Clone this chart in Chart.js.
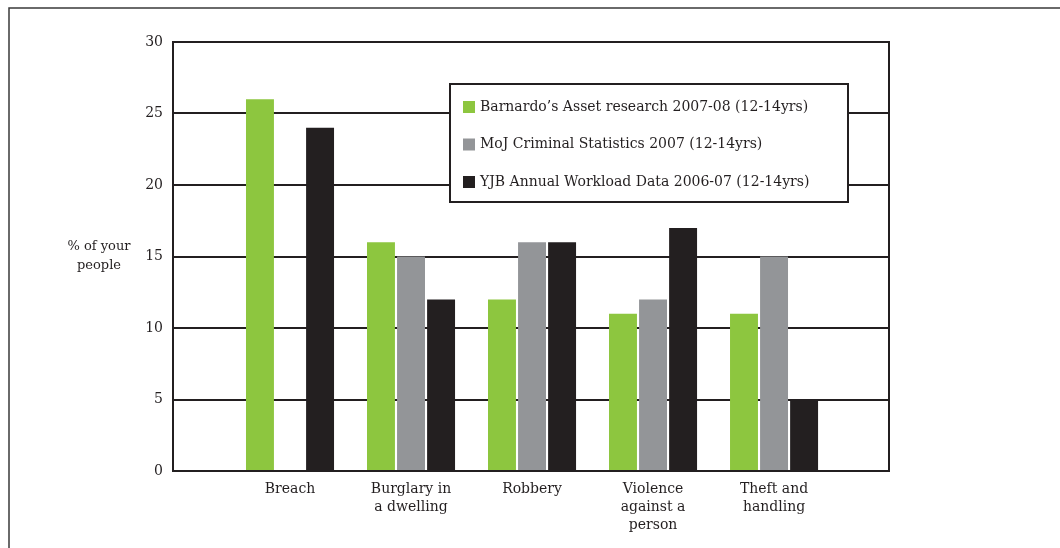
<!DOCTYPE html>
<html>
<head>
<meta charset="utf-8">
<script src="https://cdn.jsdelivr.net/npm/chart.js@4"></script>
<style>
  body { margin: 0; background: #fff; }
  canvas { display: block; }
</style>
</head>
<body>
<canvas id="myChart" width="1060" height="548"></canvas>
<script>
// categories and series
const categories = ['Breach', ['Burglary in', 'a dwelling'], 'Robbery', ['Violence', 'against a', 'person'], ['Theft and', 'handling']];
const seriesNames = [
    'Barnardo\u2019s Asset research 2007-08 (12-14yrs)',
    'MoJ Criminal Statistics 2007 (12-14yrs)',
    'YJB Annual Workload Data 2006-07 (12-14yrs)'
];
const barnardos = [26, 16, 12, 11, 11];
const moj = [null, 15, 16, 12, 15];
const yjb = [24, 12, 16, 17, 5];
const yTicks = [0, 5, 10, 15, 20, 25, 30];
const yTitle = ['% of your', 'people'];

const colors = ['#8dc63f', '#939598', '#231f20'];
const ink = '#231f20';
const fontFamily = "'DejaVu Serif', serif";

function toPoints(values) {
    return values.map((v, i) => ({ x: i + 1, y: v }));
}

// frame, plot box, axis title and legend box
const decorations = {
    id: 'decorations',
    beforeDraw(chart) {
        const ctx = chart.ctx;
        ctx.save();
        ctx.strokeStyle = '#3a3a3a';
        ctx.lineWidth = 1.5;
        ctx.beginPath();
        ctx.moveTo(9, 548);
        ctx.lineTo(9, 8);
        ctx.lineTo(1060, 8);
        ctx.stroke();
        ctx.restore();
    },
    beforeDatasetsDraw(chart) {
        const ctx = chart.ctx;
        const a = chart.chartArea;
        ctx.save();
        ctx.strokeStyle = ink;
        ctx.lineWidth = 2;
        ctx.strokeRect(a.left, a.top, a.right - a.left, a.bottom - a.top);
        ctx.fillStyle = ink;
        ctx.font = '13px ' + fontFamily;
        ctx.textAlign = 'center';
        ctx.textBaseline = 'middle';
        yTitle.forEach((t, i) => ctx.fillText(t, 99, 247 + i * 19));
        ctx.restore();
    },
    afterDatasetsDraw(chart) {
        const ctx = chart.ctx;
        const box = { x: 450, y: 84, w: 398, h: 118 };
        ctx.save();
        ctx.fillStyle = '#fff';
        ctx.fillRect(box.x, box.y, box.w, box.h);
        ctx.strokeStyle = ink;
        ctx.lineWidth = 2;
        ctx.strokeRect(box.x, box.y, box.w, box.h);
        ctx.font = '14px ' + fontFamily;
        ctx.textBaseline = 'middle';
        chart.data.datasets.forEach((ds, i) => {
            const cy = 107 + i * 37.5;
            ctx.fillStyle = ds.backgroundColor;
            ctx.fillRect(463, cy - 6, 12, 12);
            ctx.fillStyle = ink;
            ctx.fillText(ds.label, 480, cy);
        });
        ctx.restore();
    }
};

const atx = document.getElementById('myChart').getContext('2d');
const barChart = new Chart(atx, {
    type: 'bar',
    data: {
        datasets: [
            { label: seriesNames[0], data: toPoints(barnardos), backgroundColor: colors[0] },
            { label: seriesNames[1], data: toPoints(moj), backgroundColor: colors[1] },
            { label: seriesNames[2], data: toPoints(yjb), backgroundColor: colors[2] }
        ]
    },
    options: {
        responsive: false,
        animation: false,
        categoryPercentage: 0.745,
        barPercentage: 0.93,
        layout: { padding: { left: 0, top: 42, right: 171, bottom: 0 } },
        plugins: {
            legend: { display: false },
            tooltip: { enabled: false }
        },
        scales: {
            x: {
                type: 'linear',
                offset: false,
                min: 0.033,
                max: 5.95,
                afterBuildTicks(scale) {
                    scale.ticks = categories.map((c, i) => ({ value: i + 1 }));
                },
                afterFit(scale) { scale.height = 77; },
                grid: { display: false, drawTicks: false, offset: false },
                border: { display: false },
                ticks: {
                    padding: 9,
                    maxRotation: 0,
                    autoSkip: false,
                    color: ink,
                    font: { family: fontFamily, size: 14, lineHeight: 1.3 },
                    callback: value => categories[value - 1]
                }
            },
            y: {
                min: 0,
                max: 30,
                afterBuildTicks(scale) {
                    scale.ticks = yTicks.map(v => ({ value: v }));
                },
                afterFit(scale) { scale.width = 173; },
                grid: { color: ink, lineWidth: 2, drawTicks: false },
                border: { display: false },
                ticks: {
                    padding: 10,
                    color: ink,
                    font: { family: fontFamily, size: 14 }
                }
            }
        }
    },
    plugins: [decorations]
});
</script>
</body>
</html>
